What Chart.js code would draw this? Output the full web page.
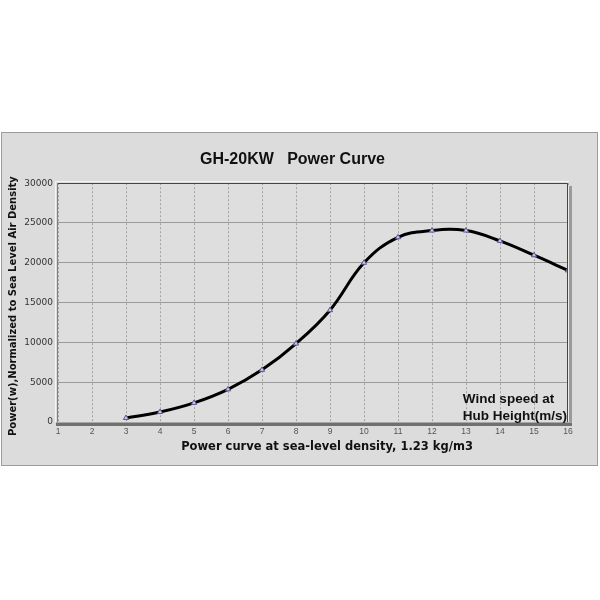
<!DOCTYPE html>
<html>
<head>
<meta charset="utf-8">
<script src="https://cdn.jsdelivr.net/npm/chart.js@4.4.1/dist/chart.umd.min.js"></script>
<style>
  html, body { margin: 0; padding: 0; background: #ffffff; }
  #wrap { width: 600px; height: 600px; }
</style>
</head>
<body>
<div id="wrap"><canvas id="powerChart" width="600" height="600"></canvas></div>
<script>
const windSpeeds = [3, 4, 5, 6, 7, 8, 9, 10, 11, 12, 13, 14, 15, 16];
const powerValues = [500, 1250, 2400, 4100, 6550, 9850, 14050, 20000, 23200, 24050, 24050, 22750, 20950, 19050];
const xTicks = [1, 2, 3, 4, 5, 6, 7, 8, 9, 10, 11, 12, 13, 14, 15, 16];
const yTicks = [0, 5000, 10000, 15000, 20000, 25000, 30000];

const points = windSpeeds.map((s, i) => ({ x: s, y: powerValues[i] }));

const ARIAL = "'Liberation Sans', Arial, sans-serif";
const VERDANA = "'DejaVu Sans', Verdana, sans-serif";

// grey panel behind everything
const panel = {
  id: "panel",
  beforeDraw(chart) {
    const ctx = chart.ctx;
    ctx.save();
    ctx.fillStyle = "#dcdcdc";
    ctx.fillRect(1, 132, 597, 334);
    ctx.strokeStyle = "#9c9c9c";
    ctx.lineWidth = 1;
    ctx.strokeRect(1.5, 132.5, 596, 333);
    const a = chart.chartArea;
    ctx.fillStyle = "#dedede";
    ctx.fillRect(a.left, a.top, a.right - a.left, a.bottom - a.top);
    ctx.restore();
  },
};

// 3d looking frame around the plot + note text
const frame = {
  id: "frame",
  afterDatasetsDraw(chart) {
    const ctx = chart.ctx;
    const a = chart.chartArea;
    const l = Math.round(a.left), r = Math.round(a.right);
    const t = Math.round(a.top), b = Math.round(a.bottom);
    ctx.save();
    ctx.lineWidth = 1;
    ctx.strokeStyle = "#f4f4f4";
    ctx.beginPath();
    ctx.moveTo(l - 2.5, b);
    ctx.lineTo(l - 2.5, t - 1.5);
    ctx.lineTo(r + 1, t - 1.5);
    ctx.stroke();
    ctx.strokeStyle = "#444";
    ctx.beginPath();
    ctx.moveTo(l - 0.5, t + 0.5);
    ctx.lineTo(r - 0.5, t + 0.5);
    ctx.lineTo(r - 0.5, b);
    ctx.stroke();
    ctx.strokeStyle = "#808080";
    ctx.beginPath();
    ctx.moveTo(l - 0.5, t + 0.5);
    ctx.lineTo(l - 0.5, b);
    ctx.stroke();
    ctx.fillStyle = "#ececec";
    ctx.fillRect(r, t + 3, 1, b - t);
    ctx.fillStyle = "#9a9a9a";
    ctx.fillRect(r + 1, t + 3, 3, b - t);
    ctx.fillStyle = "#707070";
    ctx.fillRect(l - 2, b + 1, r - l + 6, 3);
    ctx.fillStyle = "#a8a8a8";
    ctx.fillRect(l - 2, b, r - l + 6, 1);

    ctx.fillStyle = "#111";
    ctx.font = "bold 13.5px " + ARIAL;
    ctx.textBaseline = "alphabetic";
    ctx.textAlign = "left";
    const line2 = "Hub Height(m/s)";
    const w = ctx.measureText(line2).width;
    ctx.fillText("Wind speed at", r - 1 - w, b - 19);
    ctx.fillText(line2, r - 1 - w, b - 2);
    ctx.restore();
  },
};

new Chart(document.getElementById("powerChart"), {
  type: "line",
  data: {
    datasets: [
      {
        data: points,
        borderColor: "#000",
        borderWidth: 3,
        tension: 0.4,
        pointStyle: "triangle",
        pointRadius: 3,
        pointBackgroundColor: "#c9c9f0",
        pointBorderColor: "#5a5a90",
        pointBorderWidth: 1,
        fill: false,
      },
    ],
  },
  options: {
    responsive: false,
    animation: false,
    layout: { padding: { top: 150, left: 17, right: 32, bottom: 138 } },
    plugins: {
      legend: { display: false },
      tooltip: { enabled: false },
      title: {
        display: true,
        text: "GH-20KW   Power Curve",
        color: "#111",
        font: { family: ARIAL, size: 16, weight: "bold" },
        padding: { top: 0, bottom: 14 },
      },
    },
    scales: {
      x: {
        type: "linear",
        min: 1,
        max: 16,
        afterBuildTicks: (s) => { s.ticks = xTicks.map((v) => ({ value: v })); },
        afterFit: (s) => { s.height = 40; },
        border: { display: false, dash: [2, 2] },
        grid: { color: "#a2a2a2", drawTicks: false, tickLength: 0 },
        ticks: {
          color: "#555",
          padding: 5,
          font: { family: ARIAL, size: 8.5 },
          maxRotation: 0,
          autoSkip: false,
        },
        title: {
          display: true,
          text: "       Power curve at sea-level density, 1.23 kg/m3",
          color: "#111",
          font: { family: VERDANA, size: 11.5, weight: "bold" },
          padding: { top: 0, bottom: 8 },
        },
      },
      y: {
        min: 0,
        max: 30000,
        afterBuildTicks: (s) => { s.ticks = yTicks.map((v) => ({ value: v })); },
        afterFit: (s) => { s.width = 41; },
        border: { display: false },
        grid: { color: "#9a9a9a", drawTicks: false, tickLength: 0 },
        ticks: {
          color: "#333",
          padding: 5,
          font: { family: VERDANA, size: 9 },
          callback: (v) => String(v),
        },
        title: {
          display: true,
          text: "Power(w),Normalized to Sea Level Air Density  ",
          color: "#111",
          font: { family: VERDANA, size: 10, weight: "bold" },
          padding: { top: -10, bottom: 0 },
        },
      },
    },
  },
  plugins: [panel, frame],
});
</script>
</body>
</html>
